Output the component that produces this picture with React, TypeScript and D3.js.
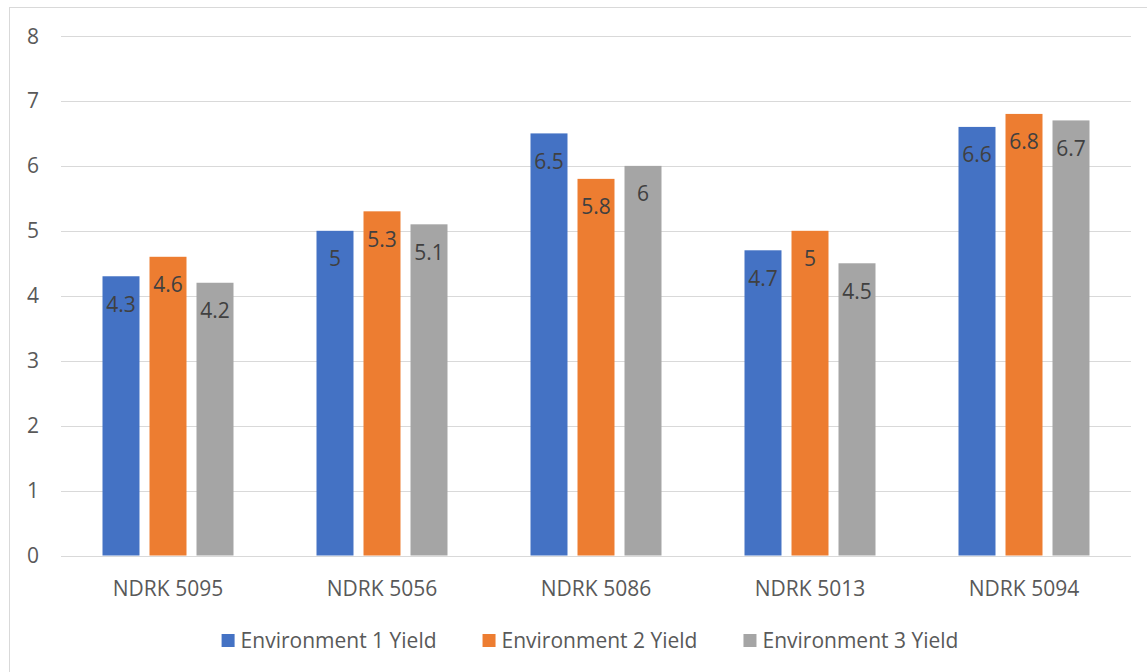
import React, { useRef, useEffect } from 'react';
import * as d3 from 'd3';

const categories = ['NDRK 5095', 'NDRK 5056', 'NDRK 5086', 'NDRK 5013', 'NDRK 5094'];
const seriesNames = ['Environment 1 Yield', 'Environment 2 Yield', 'Environment 3 Yield'];
const env1 = [4.3, 5, 6.5, 4.7, 6.6];
const env2 = [4.6, 5.3, 5.8, 5, 6.8];
const env3 = [4.2, 5.1, 6, 4.5, 6.7];
const yTicks = [0, 1, 2, 3, 4, 5, 6, 7, 8];
const colors = ['#4472C4', '#ED7D31', '#A5A5A5'];

const W = 1147;
const H = 672;
const FONT = '"Open Sans", "Liberation Sans", sans-serif';

const App = () => {
  const ref = useRef<SVGSVGElement>(null);

  useEffect(() => {
    const svg = d3.select(ref.current);
    svg.selectAll('*').remove();

    const values = [env1, env2, env3];
    const margin = { top: 36, left: 61, right: 16, bottom: 116 };

    // рамка вокруг всей диаграммы
    svg.append('rect')
      .attr('x', 9.5).attr('y', 7.5)
      .attr('width', W + 20).attr('height', H + 20)
      .attr('fill', '#fff')
      .attr('stroke', '#d9d9d9');

    const x0 = d3.scaleBand()
      .domain(categories)
      .range([margin.left, W - margin.right]);

    const x1 = d3.scaleBand()
      .domain(seriesNames)
      .range([0, 131])
      .paddingInner(0.213);

    const y = d3.scaleLinear()
      .domain([0, 8])
      .range([H - margin.bottom - 0.5, margin.top]);

    // сетка
    svg.append('g')
      .selectAll('line')
      .data(yTicks)
      .enter()
      .append('line')
      .attr('x1', margin.left)
      .attr('x2', W - margin.right)
      .attr('y1', d => Math.round(y(d)) + 0.5)
      .attr('y2', d => Math.round(y(d)) + 0.5)
      .attr('stroke', '#d9d9d9')
      .attr('stroke-width', 1);

    // подписи оси Y
    svg.append('g')
      .selectAll('text')
      .data(yTicks)
      .enter()
      .append('text')
      .attr('x', 39)
      .attr('y', d => y(d) + 7.5)
      .attr('text-anchor', 'end')
      .attr('font-family', FONT)
      .attr('font-size', 21)
      .attr('fill', '#595959')
      .text(d => d);

    // столбцы
    const groups = svg.append('g')
      .selectAll('g')
      .data(categories)
      .enter()
      .append('g')
      .attr('transform', d => `translate(${x0(d)! + (x0.bandwidth() - 131) / 2},0)`);

    groups.each(function (cat, ci) {
      const g = d3.select(this);
      seriesNames.forEach((s, si) => {
        const v = values[si][ci];
        g.append('rect')
          .attr('x', x1(s)!)
          .attr('y', y(v))
          .attr('width', x1.bandwidth())
          .attr('height', y(0) - y(v))
          .attr('fill', colors[si]);
        g.append('text')
          .attr('x', x1(s)! + x1.bandwidth() / 2)
          .attr('y', y(v) + 35.5)
          .attr('text-anchor', 'middle')
          .attr('font-family', FONT)
          .attr('font-size', 21)
          .attr('fill', '#404040')
          .text(v);
      });
    });

    // подписи категорий
    svg.append('g')
      .selectAll('text')
      .data(categories)
      .enter()
      .append('text')
      .attr('x', d => x0(d)! + x0.bandwidth() / 2)
      .attr('y', 596)
      .attr('text-anchor', 'middle')
      .attr('font-family', FONT)
      .attr('font-size', 21)
      .attr('fill', '#595959')
      .text(d => d);

    // легенда
    const legend = svg.append('g');
    let cx = 0;
    seriesNames.forEach((s, i) => {
      const item = legend.append('g').attr('transform', `translate(${cx},0)`);
      item.append('rect')
        .attr('x', 0).attr('y', 634)
        .attr('width', 13).attr('height', 13)
        .attr('fill', colors[i]);
      const t = item.append('text')
        .attr('x', 19)
        .attr('y', 648)
        .attr('font-family', FONT)
        .attr('font-size', 21)
        .attr('fill', '#595959')
        .text(s);
      const tw = (t.node() as SVGTextElement).getComputedTextLength();
      cx += 19 + tw + 46;
    });
    const total = cx - 46;
    legend.attr('transform', `translate(${590 - total / 2},0)`);
  }, []);

  return (
    <svg
      ref={ref}
      width={W}
      height={H}
      style={{ position: 'absolute', left: 0, top: 0, background: '#fff' }}
    />
  );
};

export default App;
